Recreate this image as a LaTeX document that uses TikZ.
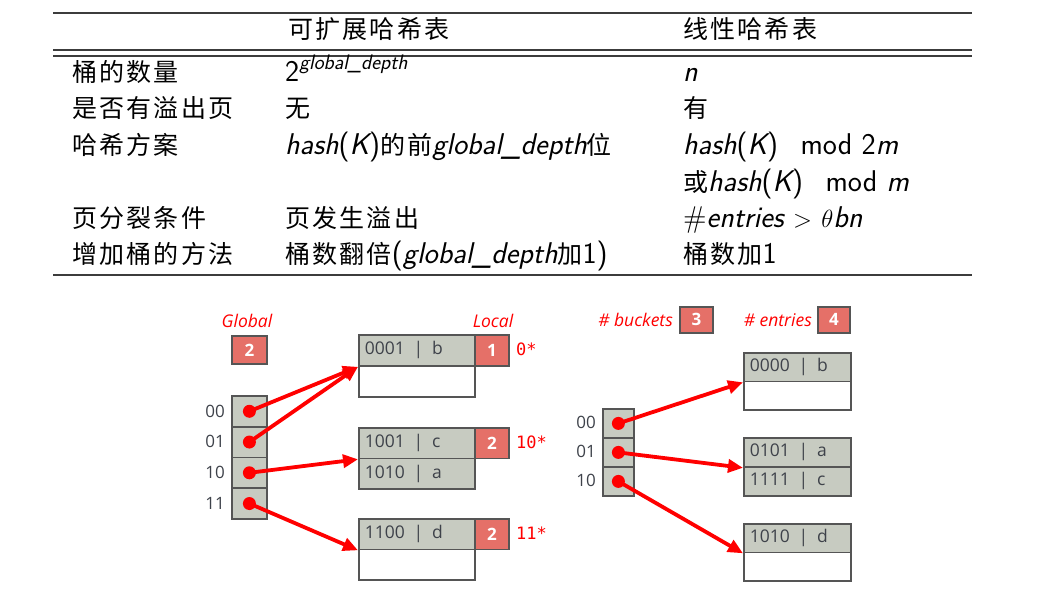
\documentclass[tikz,border=0pt]{standalone}
\usepackage{fontspec}
\usetikzlibrary{arrows.meta}
\newfontfamily\cjkf[LetterSpace=9]{Noto Sans CJK SC}
\newcommand{\cj}[1]{{\cjkf\fontsize{25}{30}\selectfont #1}}
\newfontfamily\dfont{Open Sans}
\newfontfamily\mfont{DejaVu Sans Mono}
\definecolor{cellgray}{RGB}{199,203,193}
\definecolor{bordergray}{RGB}{85,85,85}
\definecolor{redbox}{RGB}{229,112,104}
\definecolor{arrred}{RGB}{255,0,0}
\definecolor{lblgray}{RGB}{62,66,74}
\definecolor{rulegray}{RGB}{60,60,60}
\tikzset{
  tt/.style={anchor=base west,inner sep=0pt,font=\sffamily\fontsize{30}{33}\selectfont},
  cell/.style={draw=bordergray,line width=1.8pt,fill=cellgray,anchor=north west,inner sep=0pt,
     font=\dfont\fontsize{17.5}{20}\selectfont,text=lblgray},
  wcell/.style={cell,fill=white},
  bcell/.style={cell,inner xsep=6pt,align=left},
  rbox/.style={draw=bordergray,line width=1.8pt,fill=redbox,anchor=north west,inner sep=0pt,
     font=\dfont\bfseries\fontsize{17}{20}\selectfont,text=white},
  redlbl/.style={text=arrred,inner sep=0pt,font=\dfont\itshape\fontsize{17.5}{20}\selectfont},
  monolbl/.style={text=arrred,inner sep=0pt,anchor=west,font=\mfont\fontsize{17}{20}\selectfont},
  dirlbl/.style={text=lblgray,inner sep=0pt,anchor=east,font=\dfont\fontsize{17}{20}\selectfont},
  arr/.style={draw=arrred,line width=3.8pt,-{Triangle[length=15pt,width=13pt]},shorten >=0pt},
  dot/.style={circle,fill=arrred,inner sep=0pt,minimum size=13pt}
}
\newcommand{\sep}{\hspace{0.5em}|\hspace{0.5em}}
\begin{document}
\begin{tikzpicture}[x=1pt,y=-1pt]
\useasboundingbox (0,0) rectangle (1051,597);
% ---------------- table ----------------
\draw[rulegray,line width=1.2pt] (53,13) -- (972,13);
\draw[rulegray,line width=1.2pt] (53,50) -- (972,50);
\draw[rulegray,line width=1.2pt] (53,56) -- (972,56);
\draw[rulegray,line width=2pt] (53,275) -- (972,275);
\node[tt] (h2) at (288,38) {\cj{可扩展哈希表}};
\node[tt] (h3) at (683,38) {\cj{线性哈希表}};
% row 1
\node[tt] (r1a) at (72,81) {\cj{桶的数量}};
\node[tt] (r1b) at (285,81) {2\raisebox{0.4em}{\fontsize{21}{23}\selectfont\itshape global\_depth}};
\node[tt] (r1c) at (683,81) {\itshape n};
% row 2
\node[tt] (r2a) at (72,117) {\cj{是否有溢出页}};
\node[tt] (r2b) at (285,117) {\cj{无}};
\node[tt] (r2c) at (683,117) {\cj{有}};
% row 3
\node[tt] (r3a) at (72,154) {\cj{哈希方案}};
\node[tt] (r3b) at (285,154) {\itshape hash\upshape(\itshape K\upshape)\cj{的前}\itshape global\_depth\upshape\cj{位}};
\node[tt] (r3c) at (683,154) {\itshape hash\upshape(\itshape K\upshape)\hspace{0.75em}mod 2\itshape m};
\node[tt] (r3d) at (683,191) {\cj{或}\itshape hash\upshape(\itshape K\upshape)\hspace{0.75em}mod \itshape m};
% row 4
\node[tt] (r4a) at (72,227) {\cj{页分裂条件}};
\node[tt] (r4b) at (285,227) {\cj{页发生溢出}};
\node[tt] (r4c) at (683,227) {\#\itshape entries\upshape\ $>$ $\theta$\itshape bn};
% row 5
\node[tt] (r5a) at (72,263) {\cj{增加桶的方法}};
\node[tt] (r5b) at (285,263) {\cj{桶数翻倍}(\itshape global\_depth\upshape\cj{加}1)};
\node[tt] (r5c) at (683,263) {\cj{桶数加}1};
% ---------------- extendible hashing ----------------
\node[redlbl] (glob) at (247,321) {Global};
\node[rbox,minimum width=35pt,minimum height=28pt] (gbox) at (231,335) {2};
\node[redlbl] (loc) at (493,321) {Local};
\foreach \n/\y/\l in {d0/395/00,d1/425.75/01,d2/456.5/10,d3/487.25/11}{
  \node[cell,minimum width=35pt,minimum height=30.75pt] (\n) at (231,\y) {};
  \node[dirlbl] (\n l) at (225,\y+16) {\l};
}
% buckets
\node[bcell,text width=104pt,minimum height=31pt] (b1a) at (358,334) {0001\sep b};
\node[wcell,minimum width=116pt,minimum height=31pt] (b1b) at (358,365) {};
\node[rbox,minimum width=34pt,minimum height=31pt] (b1l) at (474,334) {1};
\node[monolbl] (b1t) at (516,349) {0*};
\node[bcell,text width=104pt,minimum height=30.5pt] (b2a) at (358,427) {1001\sep c};
\node[bcell,text width=104pt,minimum height=30.5pt] (b2b) at (358,457.5) {1010\sep a};
\node[rbox,minimum width=34pt,minimum height=30.5pt] (b2l) at (474,427) {2};
\node[monolbl] (b2t) at (516,442) {10*};
\node[bcell,text width=104pt,minimum height=30.5pt] (b3a) at (358,518) {1100\sep d};
\node[wcell,minimum width=116pt,minimum height=30.5pt] (b3b) at (358,548.5) {};
\node[rbox,minimum width=34pt,minimum height=30.5pt] (b3l) at (474,518) {2};
\node[monolbl] (b3t) at (516,533) {11*};
% arrows
\draw[arr] (d0.center) -- (b1a.south west);
\draw[arr] (d1.center) -- (b1a.south west);
\draw[arr] (d2.center) -- (b2a.south west);
\draw[arr] (d3.center) -- (b3a.south west);
\foreach \n in {d0,d1,d2,d3}{\node[dot] at (\n.center) {};}
% ---------------- linear hashing ----------------
\node[redlbl,anchor=east] (nb) at (673,320) {\# buckets};
\node[rbox,minimum width=33pt,minimum height=26pt] (nbbox) at (679,306) {3};
\node[redlbl,anchor=east] (ne) at (812,320) {\# entries};
\node[rbox,minimum width=32pt,minimum height=26pt] (nebox) at (817,306) {4};
\foreach \n/\y/\l in {e0/408/00,e1/437/01,e2/466/10}{
  \node[cell,minimum width=31pt,minimum height=29pt] (\n) at (602,\y) {};
  \node[dirlbl] (\n l) at (596,\y+14.5) {\l};
}
\node[bcell,text width=95pt,minimum height=28.5pt] (c1a) at (743,352) {0000\sep b};
\node[wcell,minimum width=107pt,minimum height=28.5pt] (c1b) at (743,380.5) {};
\node[bcell,text width=95pt,minimum height=29pt] (c2a) at (743,437) {0101\sep a};
\node[bcell,text width=95pt,minimum height=29pt] (c2b) at (743,466) {1111\sep c};
\node[bcell,text width=95pt,minimum height=28.5pt] (c3a) at (743,523) {1010\sep d};
\node[wcell,minimum width=107pt,minimum height=28.5pt] (c3b) at (743,551.5) {};
\draw[arr] (e0.center) -- (c1a.south west);
\draw[arr] (e1.center) -- (c2a.south west);
\draw[arr] (e2.center) -- (c3a.south west);
\foreach \n in {e0,e1,e2}{\node[dot] at (\n.center) {};}
\end{tikzpicture}
\end{document}
